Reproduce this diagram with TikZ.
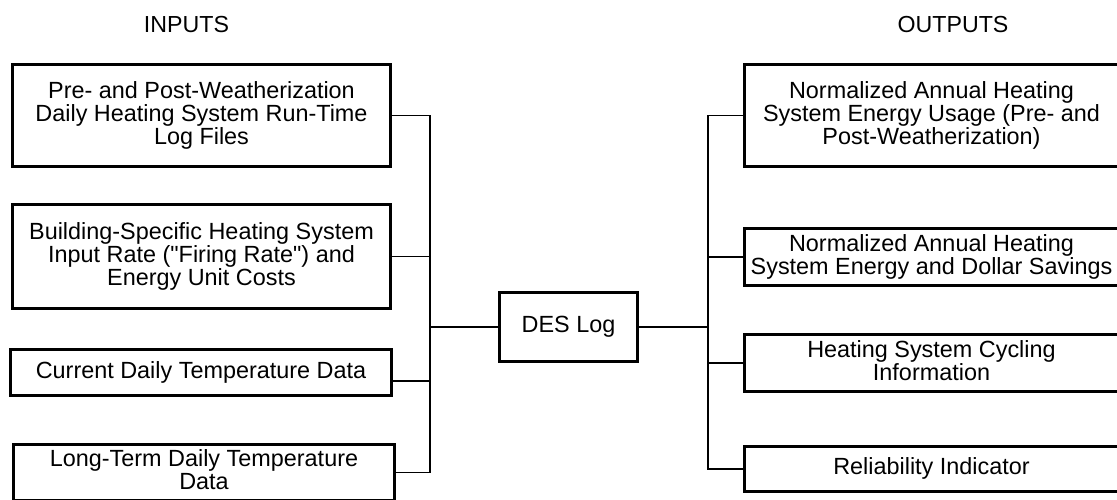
\documentclass[tikz,border=0pt]{standalone}
\usepackage{fontspec}
\setmainfont{Liberation Sans}[Ligatures=TeXOff]
\newcommand{\tsup}{\rule{0pt}{17.5pt}}
\newcommand{\tsdn}{\rule[-6pt]{0pt}{6pt}}
\newcommand{\boxfont}{\fontsize{23.4}{23}\selectfont\lineskiplimit=-100pt\relax}
\begin{document}
\begin{tikzpicture}[x=1pt,y=-1pt,
  box/.style={draw, line width=2.8pt, align=center, inner sep=0pt, font=\boxfont},
  conn/.style={line width=1.1pt},
  head/.style={font=\fontsize{23.2}{23}\selectfont, anchor=base, inner sep=0pt}]
\useasboundingbox (0,0) rectangle (1117,500);
\clip (0,0) rectangle (1117,500);

% headings
\node[head] (hin) at (186.5,33) {INPUTS};
\node[head] (hout) at (953,33) {OUTPUTS};

% inputs
\node[box, minimum width=378pt, minimum height=102pt] (in1) at (201.5,115.5)
  {\tsup Pre- and Post-Weatherization\\Daily Heating System Run-Time\\Log Files\tsdn};
\node[box, minimum width=378pt, minimum height=104pt] (in2) at (201.5,256.5)
  {\tsup Building-Specific Heating System\\Input Rate ("Firing Rate") and\\Energy Unit Costs\tsdn};
\node[box, minimum width=381pt, minimum height=46pt] (in3) at (201,372.5)
  {\tsup Current Daily Temperature Data\tsdn};
\node[box, minimum width=381pt, minimum height=56pt] (in4) at (204,472.5)
  {\tsup Long-Term Daily Temperature\\Data\tsdn};

% centre
\node[box, minimum width=138pt, minimum height=69pt] (des) at (568.5,327)
  {\tsup DES Log\tsdn};

% outputs
\node[box, minimum width=374pt, minimum height=102pt] (out1) at (931.5,115.5)
  {\tsup Normalized Annual Heating\\System Energy Usage (Pre- and\\Post-Weatherization)\tsdn};
\node[box, minimum width=374pt, minimum height=57pt] (out2) at (931.5,257)
  {\tsup Normalized Annual Heating\\System Energy and Dollar Savings\tsdn};
\node[box, minimum width=374pt, minimum height=57pt] (out3) at (931.5,363)
  {\tsup Heating System Cycling\\Information\tsdn};
\node[box, minimum width=374pt, minimum height=45pt] (out4) at (931.5,469)
  {\tsup Reliability Indicator\tsdn};

% buses
\coordinate (lb) at (430,327);
\coordinate (rb) at (708,327);

\draw[conn] (in1.east) -| (lb);
\draw[conn] (in2.east) -| (lb);
\draw[conn] ([yshift=-8.5pt]in3.east) -| (lb);
\draw[conn] (in4.east) -| (lb);
\draw[conn] (lb) -- (des.west);

\draw[conn] (des.east) -- (rb);
\draw[conn] (out1.west) -| (rb);
\draw[conn] (out2.west) -| (rb);
\draw[conn] (out3.west) -| (rb);
\draw[conn] (out4.west) -| (rb);
\end{tikzpicture}
\end{document}
